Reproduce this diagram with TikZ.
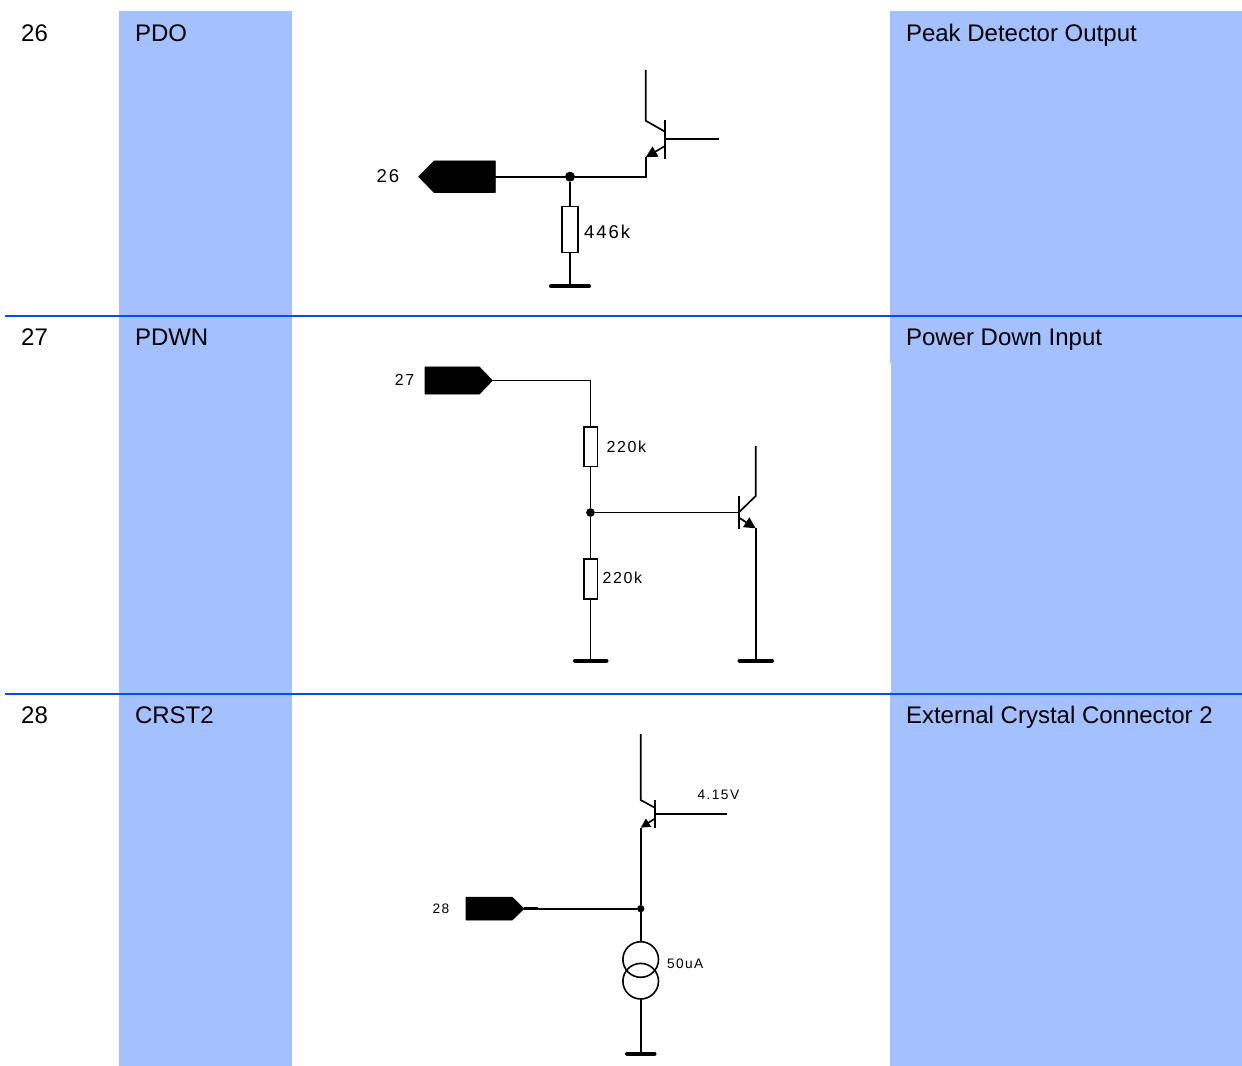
\documentclass[tikz,border=0pt]{standalone}
\usepackage{fontspec}
\setmainfont{Liberation Sans}
\newfontfamily\schemfont[LetterSpace=10.5]{Liberation Sans}
\usetikzlibrary{arrows.meta}
\definecolor{colband}{HTML}{A4C0FF}
\definecolor{rowline}{HTML}{0050E8}
\tikzset{
  band/.style={fill=colband,draw=none},
  rowrule/.style={draw=rowline,line width=1.3pt},
  cell/.style={anchor=base west,inner sep=0pt,outer sep=0pt,font=\fontsize{18pt}{20pt}\selectfont,text=black},
  wire/.style={draw=black,line width=1.25pt,line join=miter},
  gnd/.style={draw=black,line width=3pt,line cap=round},
  pin/.style={fill=black,draw=black,line width=.4pt,line join=round},
  res/.style={draw=black,fill=white,line width=1.2pt,rectangle,inner sep=0pt,outer sep=0pt},
  dot/.style={circle,fill=black,inner sep=0pt,outer sep=0pt},
  src/.style={circle,draw=black,line width=1.2pt,inner sep=0pt,outer sep=0pt,minimum size=26.7pt},
  lblA/.style={inner sep=0pt,outer sep=0pt,font=\fontsize{13.9pt}{15pt}\schemfont},
  lblB/.style={inner sep=0pt,outer sep=0pt,font=\fontsize{12pt}{14pt}\schemfont},
  lblC/.style={inner sep=0pt,outer sep=0pt,font=\fontsize{10.3pt}{12pt}\schemfont},
  emit/.style={wire,-{Triangle[length=#1,width=#1]}},
  emit/.default=7pt
}
\begin{document}
\begin{tikzpicture}[x=.75pt,y=-.75pt]
\useasboundingbox (0,0) rectangle (1242,1066);
% bands
\fill[band] (119,11) rectangle (292,1066);
\fill[band] (890,11) rectangle (1242,363);
\fill[band] (891,363) rectangle (1242,692);
\fill[band] (890,692) rectangle (1242,1066);
% rules
\coordinate (r1a) at (5,316); \coordinate (r1b) at (1242,316);
\coordinate (r2a) at (5,694); \coordinate (r2b) at (1242,694);
\draw[rowrule] (r1a) -- (r1b);
\draw[rowrule] (r2a) -- (r2b);
% table text
\node[cell] (n26) at (21.2,41.6) {26};
\node[cell] (nPDO) at (135,41.6) {PDO};
\node[cell] (dPDO) at (906,41.6) {Peak Detector Output};
\node[cell] (n27) at (21.2,345.2) {27};
\node[cell] (nPDWN) at (135,345.2) {PDWN};
\node[cell] (dPDWN) at (906,345.2) {Power Down Input};
\node[cell] (n28) at (21.2,723.2) {28};
\node[cell] (nCRST) at (135,723.2) {CRST2};
\node[cell] (dCRST) at (906,723.2) {External Crystal Connector 2};

% ---- circuit 26
\fill[pin] (418.5,176.7) -- (434,161) -- (495.3,161) -- (495.3,192.5) -- (434,192.5) -- cycle;
\coordinate (aPin) at (495.3,176.7);
\node[dot,minimum size=7.5pt] (aJ) at (570,176.7) {};
\node[res,minimum width=11.8pt,minimum height=34.5pt] (aR) at (570,229.7) {};
\coordinate (aG) at (570,286.3);
\coordinate (aGl) at (551,286.3); \coordinate (aGr) at (589,286.3);
\coordinate (aEk) at (645.7,176.7);
\coordinate (aE) at (645.7,157.3);
\coordinate (aEb) at (665,146);
\coordinate (aBt) at (665,120); \coordinate (aBb) at (665,158.7);
\coordinate (aB) at (665,139); \coordinate (aBe) at (718.5,139);
\coordinate (aCt) at (645.7,70); \coordinate (aC) at (645.7,120.7); \coordinate (aCb) at (665,131.7);
\draw[wire] (aPin) -- (aJ) -- (aEk) -- (aE);
\draw[emit=8.5pt] (aEb) -- (aE);
\draw[wire] (aBt) -- (aBb);
\draw[wire] (aB) -- (aBe);
\draw[wire] (aCt) -- (aC) -- (aCb);
\draw[wire] (aJ) -- (aR.north);
\draw[wire] (aR.south) -- (aG);
\draw[gnd] (aGl) -- (aGr);
\node[lblA] (aL1) at (388,176) {26};
\node[lblA,anchor=west] (aL2) at (584,232) {446k};

% ---- circuit 27
\fill[pin] (425,366.9) -- (479.3,366.9) -- (492.5,380.5) -- (479.3,394.2) -- (425,394.2) -- cycle;
\coordinate (bPin) at (492.5,380.5);
\coordinate (bK) at (590.5,380.5);
\node[res,minimum width=10.2pt,minimum height=29.7pt] (bR1) at (590.5,446.5) {};
\node[dot,minimum size=6.5pt] (bJ) at (590.5,512.5) {};
\node[res,minimum width=10.2pt,minimum height=30pt] (bR2) at (590.5,578.7) {};
\coordinate (bG) at (590.5,660.7);
\coordinate (bGl) at (575,660.7); \coordinate (bGr) at (606.5,660.7);
\coordinate (bB) at (738.7,512.5);
\coordinate (bBt) at (738.7,495.7); \coordinate (bBb) at (738.7,529);
\coordinate (bCt) at (755.7,446); \coordinate (bC) at (755.7,496);
\coordinate (bEb) at (738.7,517.5); \coordinate (bE) at (755.7,528.3);
\coordinate (bG2) at (755.7,660.7);
\coordinate (bG2l) at (739.5,660.7); \coordinate (bG2r) at (772,660.7);
\draw[wire] (bPin) -- (bK) -- (bR1.north);
\draw[wire] (bR1.south) -- (bJ) -- (bR2.north);
\draw[wire] (bR2.south) -- (bG);
\draw[gnd] (bGl) -- (bGr);
\draw[wire] (bJ) -- (bB);
\draw[wire] (bBt) -- (bBb);
\draw[wire] (bCt) -- (bC) -- (bB);
\draw[emit=8.5pt] (bEb) -- (bE);
\draw[wire] (bE) -- (bG2);
\draw[gnd] (bG2l) -- (bG2r);
\node[lblB] (bL1) at (404.5,380) {27};
\node[lblB,anchor=west] (bL2) at (606.5,446.5) {220k};
\node[lblB,anchor=west] (bL3) at (602.5,577.7) {220k};

% ---- circuit 28
\fill[pin] (466,897.2) -- (512.3,897.2) -- (524,908.7) -- (512.3,920) -- (466,920) -- cycle;
\coordinate (cPin) at (524,908.7);
\coordinate (cStub) at (538,908.7);
\node[dot,minimum size=5.5pt] (cJ) at (640.7,908.7) {};
\coordinate (cCt) at (640.7,734); \coordinate (cC) at (640.7,800); \coordinate (cCb) at (655.3,808);
\coordinate (cBt) at (655.3,800); \coordinate (cBb) at (655.3,828.3);
\coordinate (cB) at (655.3,814); \coordinate (cBe) at (727.3,814);
\coordinate (cEb) at (655.3,818.3); \coordinate (cE) at (640.7,827.7);
\node[src] (cS1) at (640.7,959.5) {};
\node[src] (cS2) at (640.7,981.2) {};
\coordinate (cG) at (640.7,1053.7);
\coordinate (cGl) at (627,1053.7); \coordinate (cGr) at (654.5,1053.7);
\draw[wire] (cPin) -- (cJ);
\draw[wire,line width=2pt] (cPin) -- (cStub);
\draw[wire] (cCt) -- (cC) -- (cCb);
\draw[wire] (cBt) -- (cBb);
\draw[wire] (cB) -- (cBe);
\draw[emit=7pt] (cEb) -- (cE);
\draw[wire] (cE) -- (cJ) -- (cS1.north);
\draw[wire] (cS2.south) -- (cG);
\draw[gnd] (cGl) -- (cGr);
\node[lblC] (cL1) at (441,908.7) {28};
\node[lblC,anchor=west] (cL2) at (697.5,795) {4.15V};
\node[lblC,anchor=west] (cL3) at (667,964) {50uA};
\end{tikzpicture}
\end{document}
